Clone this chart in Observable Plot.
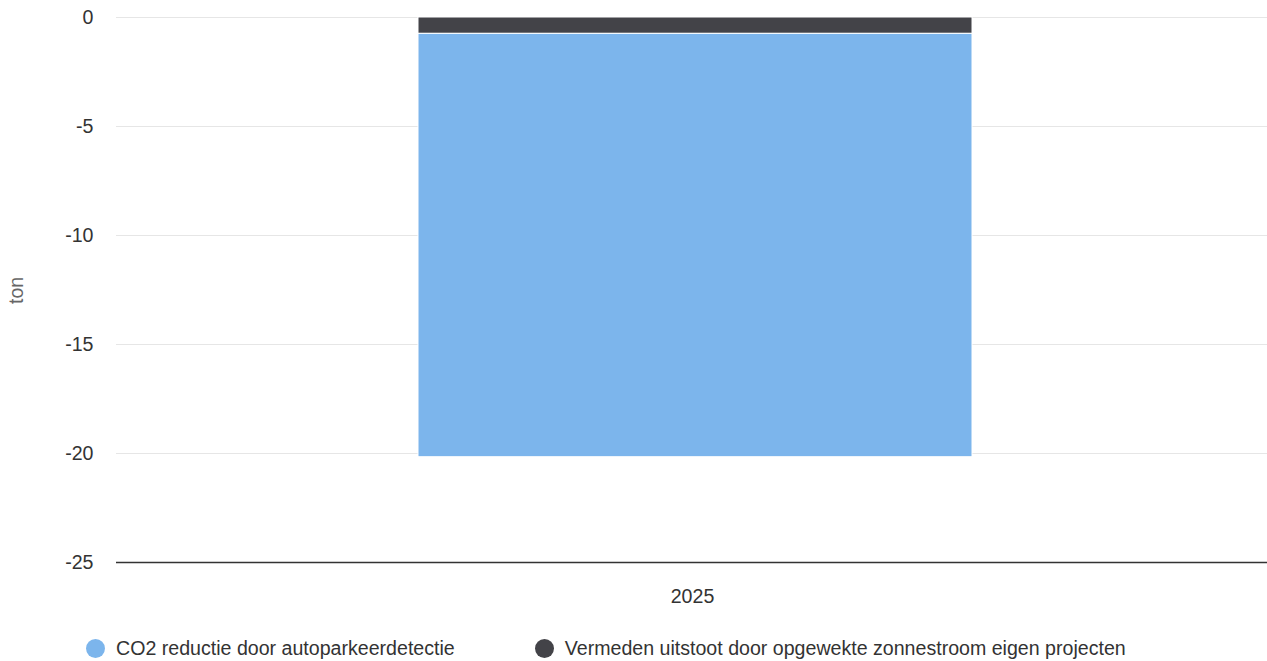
<!DOCTYPE html>
<html>
<head>
<meta charset="utf-8">
<script src="https://cdn.jsdelivr.net/npm/d3@7"></script>
<script src="https://cdn.jsdelivr.net/npm/@observablehq/plot@0.6"></script>
<style>
  html, body { margin: 0; padding: 0; background: #fff; }
  body { width: 1267px; height: 661px; overflow: hidden; font-family: "Liberation Sans", Arial, sans-serif; position: relative; }
  #legend { display: flex; position: absolute; top: 636px; left: 86px; font-size: 19.6px; line-height: 24px; color: #333; }
  .item { display: flex; align-items: center; margin-right: 80px; }
  .dot { width: 19px; height: 19px; border-radius: 50%; margin-right: 11px; flex: none; }
</style>
</head>
<body>
<div id="chart"></div>
<div id="legend"></div>
<script>
const years = ["2025"];
const seriesNames = ["Vermeden uitstoot door opgewekte zonnestroom eigen projecten", "CO2 reductie door autoparkeerdetectie"];
const zonnestroom = [-0.75];
const autoparkeer = [-19.42];
const colors = ["#434348", "#7cb5ec"];
const yTicks = [0, -5, -10, -15, -20, -25];
const legendOrder = ["CO2 reductie door autoparkeerdetectie", "Vermeden uitstoot door opgewekte zonnestroom eigen projecten"];

const rows = [];
years.forEach((y, i) => {
  rows.push({year: y, series: seriesNames[0], value: zonnestroom[i]});
  rows.push({year: y, series: seriesNames[1], value: autoparkeer[i]});
});

const plot = Plot.plot({
  width: 1267,
  height: 620,
  marginLeft: 116,
  marginRight: 0,
  marginTop: 17,
  marginBottom: 58,
  style: {fontFamily: "'Liberation Sans', Arial, sans-serif", fontSize: "19.6px", color: "#333", background: "#fff"},
  x: {domain: years, paddingInner: 0, paddingOuter: 0.537, label: null},
  y: {domain: [-25, 0], ticks: yTicks, label: null},
  color: {domain: seriesNames, range: colors},
  marks: [
    Plot.gridY(yTicks.slice(0, -1), {stroke: "#e6e6e6", strokeOpacity: 1}),
    Plot.barY(rows, {x: "year", y: "value", fill: "series", stroke: "#fff", strokeWidth: 1, order: seriesNames, dx: 3}),
    Plot.ruleY([-25], {stroke: "#333", strokeWidth: 1.5}),
    Plot.axisY(yTicks, {tickSize: 0, tickPadding: 23, fontSize: 19.6, fill: "#333", tickFormat: d => String(d)}),
    Plot.axisX({tickSize: 0, tickPadding: 27, fontSize: 19.6, fill: "#333", label: null}),
    Plot.text(["ton"], {frameAnchor: "left", dx: -100, dy: 14, rotate: -90, fill: "#666", fontSize: 19.6})
  ]
});
document.getElementById("chart").appendChild(plot);

const legend = document.getElementById("legend");
legendOrder.forEach(name => {
  const it = document.createElement("div");
  it.className = "item";
  const d = document.createElement("span");
  d.className = "dot";
  d.style.background = colors[seriesNames.indexOf(name)];
  const t = document.createElement("span");
  t.textContent = name;
  it.appendChild(d); it.appendChild(t);
  legend.appendChild(it);
});
</script>
</body>
</html>
